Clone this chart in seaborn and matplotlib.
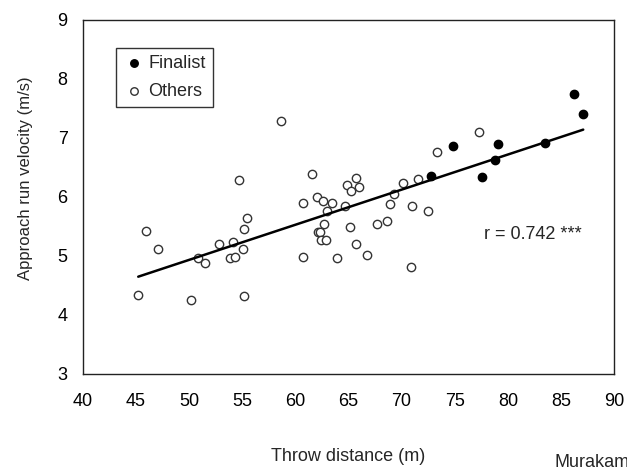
import numpy as np
import pandas as pd
import matplotlib
matplotlib.use("Agg")
import matplotlib.pyplot as plt
import seaborn as sns

# Finalists (filled markers)
finalist_dist = [72.8, 74.8, 77.6, 78.8, 79.1, 83.5, 86.2, 87.1]
finalist_vel = [6.36, 6.86, 6.34, 6.63, 6.90, 6.91, 7.74, 7.40]

# Others (open markers)
others_dist = [54.7, 45.9, 47.1, 45.2, 50.2, 55.2, 50.8, 51.5, 52.8, 54.1,
               53.8, 54.3, 55.1, 55.2, 55.4, 58.6, 61.6, 65.7, 64.9, 66.0,
               65.2, 62.0, 62.6, 63.4, 60.7, 63.0, 64.7, 70.1, 71.5, 73.3,
               69.3, 68.9, 71.0, 72.5, 62.7, 65.1, 67.7, 68.6, 62.1, 62.3,
               62.4, 62.9, 65.7, 60.7, 63.9, 66.7, 70.9, 77.3]
others_vel = [6.28, 5.42, 5.12, 4.34, 4.26, 4.32, 4.97, 4.88, 5.21, 5.24,
              4.97, 4.99, 5.12, 5.45, 5.64, 7.29, 6.39, 6.32, 6.20, 6.17,
              6.10, 6.00, 5.94, 5.90, 5.90, 5.76, 5.84, 6.24, 6.31, 6.76,
              6.05, 5.88, 5.85, 5.77, 5.55, 5.49, 5.55, 5.60, 5.40, 5.40,
              5.27, 5.27, 5.20, 4.99, 4.97, 5.01, 4.82, 7.10]

df_fin = pd.DataFrame({"dist": finalist_dist, "vel": finalist_vel})
df_oth = pd.DataFrame({"dist": others_dist, "vel": others_vel})
df_all = pd.concat([df_fin, df_oth], ignore_index=True)

sns.set_style("white")
plt.rcParams["font.family"] = ["Liberation Sans", "DejaVu Sans"]

fig = plt.figure(figsize=(6.27, 4.69), dpi=100)
ax = fig.add_axes([0.1324, 0.2026, 0.8469, 0.7548])

sns.scatterplot(data=df_fin, x="dist", y="vel", ax=ax, color="black",
                edgecolor="black", linewidth=1, s=36, label="Finalist", zorder=3)
sns.scatterplot(data=df_oth, x="dist", y="vel", ax=ax, facecolor="white",
                edgecolor="#333333", linewidth=1, s=36, label="Others", zorder=3)

# Regression line over all athletes
sns.regplot(data=df_all, x="dist", y="vel", ax=ax, scatter=False, ci=None,
            color="black", line_kws={"linewidth": 1.8, "zorder": 4})

ax.set_xlim(40, 90)
ax.set_ylim(3, 9)
ax.set_xticks(range(40, 91, 5))
ax.set_yticks(range(3, 10))
ax.tick_params(axis="both", direction="in", length=5, width=1, color="#444444",
               labelsize=13, labelcolor="black")
ax.tick_params(axis="x", pad=14)
ax.tick_params(axis="y", pad=11)
for sp in ax.spines.values():
    sp.set_color("#222222")
    sp.set_linewidth(1)

ax.set_xlabel("Throw distance (m)", fontsize=13)
ax.set_ylabel("Approach run velocity (m/s)", fontsize=12)
ax.xaxis.set_label_coords(0.5, -0.208)
ax.yaxis.set_label_coords(-0.094, 0.554)

ax.text(77.76, 5.36, "r = 0.742 ***", fontsize=13, va="center", ha="left")

leg = ax.legend(loc="upper left", bbox_to_anchor=(0.062, 0.921), borderaxespad=0,
                fontsize=13, frameon=True, fancybox=False, handletextpad=0.2,
                handlelength=1.2, borderpad=0.4, labelspacing=0.6, markerscale=0.9)
leg.get_frame().set_edgecolor("black")
leg.get_frame().set_linewidth(1)

fig.text(555 / 627, 1 - 462 / 469, "Murakami", fontsize=13, va="center", ha="left")

fig.savefig("out.png", dpi=100)
